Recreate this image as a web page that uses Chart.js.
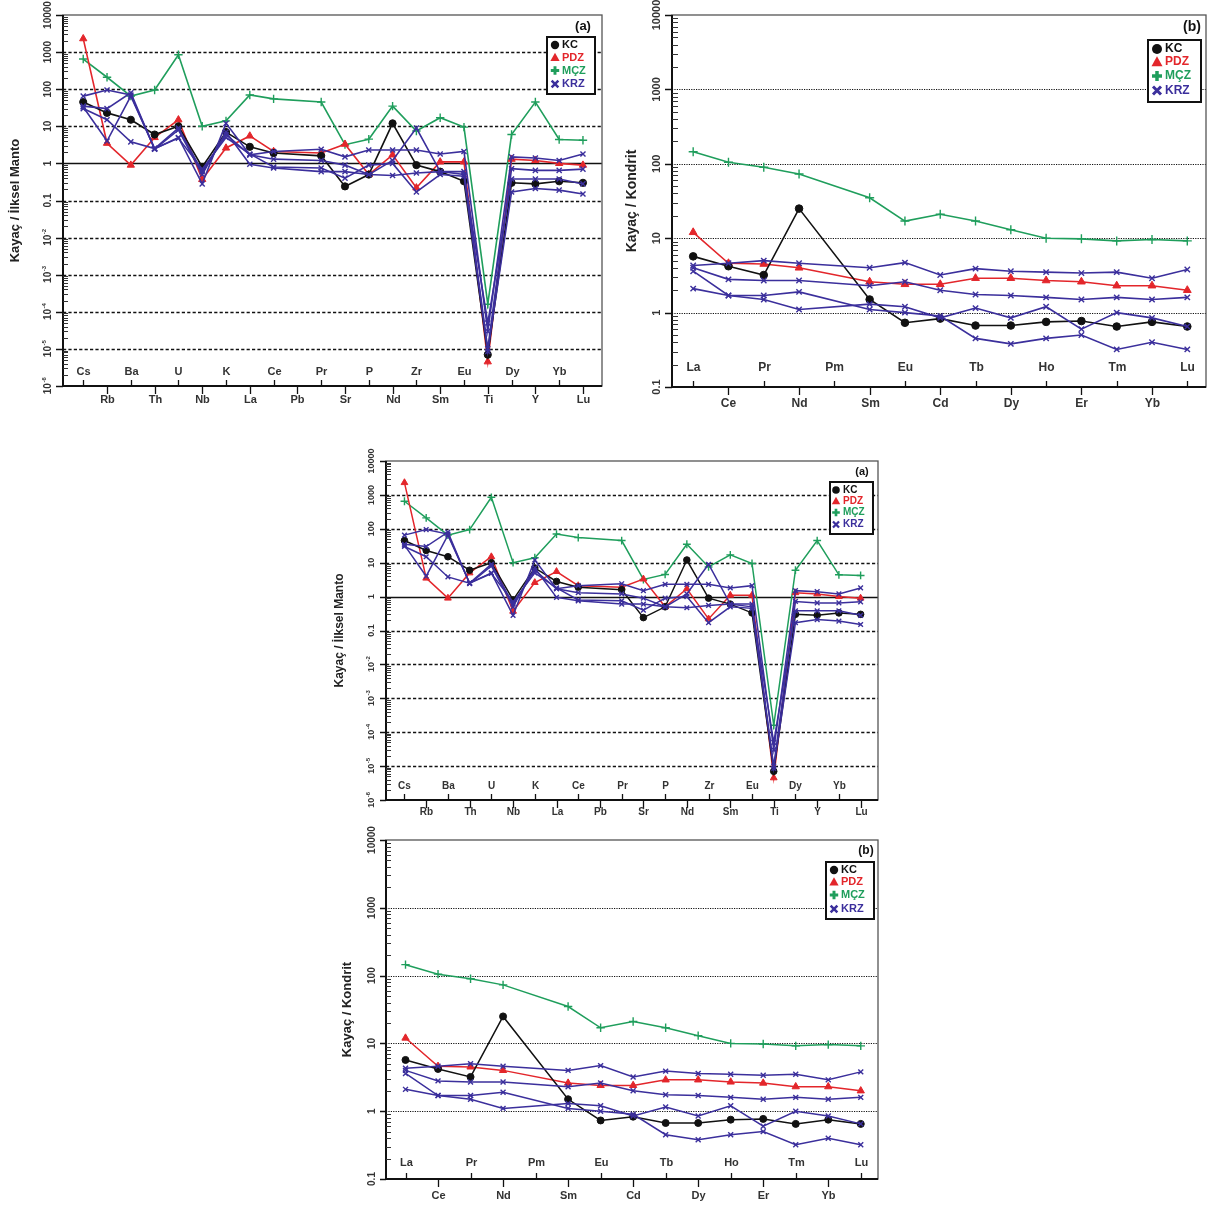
<!DOCTYPE html>
<html>
<head>
<meta charset="utf-8">
<title>Spider and REE diagrams</title>
<script src="https://cdn.jsdelivr.net/npm/chart.js@4.4.1/dist/chart.umd.min.js"></script>
<style>
  body { margin: 0; background: #fff; }
  #wrap { position: relative; width: 1220px; height: 1205px; }
  canvas { position: absolute; }
</style>
</head>
<body>
<div id="wrap">
  <canvas id="spiderTop" width="610" height="420" style="left:0;top:0"></canvas>
  <canvas id="reeTop" width="610" height="420" style="left:610px;top:0"></canvas>
  <canvas id="spiderMid" width="560" height="380" style="left:330px;top:440px"></canvas>
  <canvas id="reeBottom" width="560" height="380" style="left:330px;top:825px"></canvas>
</div>
<script>
// Primitive mantle normalised spider diagram (a)
const spiderElements = ['Cs', 'Rb', 'Ba', 'Th', 'U', 'Nb', 'K', 'La', 'Ce', 'Pb', 'Pr', 'Sr', 'P', 'Nd', 'Zr', 'Sm', 'Eu', 'Ti', 'Dy', 'Y', 'Yb', 'Lu'];
const kcSpider  = [45, 23, 15, 6, 10, 0.8, 7, 2.8, 1.9, null, 1.6, 0.24, 0.5, 12, 0.9, 0.6, 0.33, 7e-6, 0.3, 0.28, 0.33, 0.3];
const pdzSpider = [2300, 3.5, 0.9, 5, 15, 0.37, 2.6, 5.5, 2.1, null, 1.9, 3.3, 0.5, 1.7, 0.22, 1.1, 1.1, 4.5e-6, 1.3, 1.2, 1.0, 0.9];
const mczSpider = [650, 210, 65, 95, 850, 10, 14, 70, 55, null, 45, 3.2, 4.5, 35, 7.5, 17, 9.5, 1.6e-4, 6, 45, 4.4, 4.2];
const krzSpider1 = [65, 95, 70, 2.5, 5, 0.28, 12, 1.7, 2.1, null, 2.4, 1.5, 2.3, 2.3, 2.3, 1.8, 2.1, 3e-5, 1.5, 1.4, 1.2, 1.8];
const krzSpider2 = [35, 30, 80, 2.4, 8, 0.5, 7, 0.95, 0.75, null, 0.6, 0.6, 0.5, 0.47, 0.55, 0.6, 0.6, 1e-5, 0.72, 0.65, 0.65, 0.7];
const krzSpider3 = [33, 4, 65, 2.5, 9, 0.6, 6, 1.7, 1.3, null, 1.2, 0.9, 0.5, 1.2, 9, 0.6, 0.5, 5e-5, 0.38, 0.38, 0.38, 0.28];
const krzSpider4 = [30, 15, 3.8, 2.5, 4.8, 0.7, 5, 1.8, 0.8, null, 0.75, 0.4, 0.9, 1.0, 0.17, 0.5, 0.45, 8.5e-6, 0.17, 0.21, 0.19, 0.15];
const spiderTicks = [1e4, 1e3, 1e2, 10, 1, 1e-1, 1e-2, 1e-3, 1e-4, 1e-5, 1e-6];

// Chondrite normalised REE diagram (b)
const reeElements = ['La', 'Ce', 'Pr', 'Nd', 'Pm', 'Sm', 'Eu', 'Cd', 'Tb', 'Dy', 'Ho', 'Er', 'Tm', 'Yb', 'Lu'];
const kcRee  = [5.7, 4.2, 3.2, 25, null, 1.5, 0.73, 0.83, 0.67, 0.67, 0.75, 0.77, 0.65, 0.75, 0.65];
const pdzRee = [12, 4.6, 4.5, 4.0, null, 2.6, 2.4, 2.4, 2.9, 2.9, 2.7, 2.6, 2.3, 2.3, 2.0];
const mczRee = [145, 105, 90, 73, null, 35, 17, 21, 17, 13, 10, 9.8, 9.2, 9.6, 9.2];
const krzRee1 = [4.3, 4.6, 5.0, 4.6, null, 4.0, 4.7, 3.2, 3.9, 3.6, 3.5, 3.4, 3.5, 2.9, 3.8];
const krzRee2 = [4.0, 2.8, 2.7, 2.7, null, 2.3, 2.6, 2.0, 1.75, 1.7, 1.6, 1.5, 1.6, 1.5, 1.6];
const krzRee3 = [3.6, 1.7, 1.5, 1.1, null, 1.3, 1.2, 0.85, 1.15, 0.85, 1.2, 0.6, 1.0, 0.85, 0.65];
const krzRee4 = [2.1, 1.7, 1.7, 1.9, null, 1.1, 1.0, 0.9, 0.45, 0.38, 0.45, 0.5, 0.32, 0.4, 0.32];
const reeTicks = [1e4, 1e3, 1e2, 10, 1, 0.1];

const groupNames = ['KC', 'PDZ', 'MÇZ', 'KRZ'];
const groupColors = ['#111111', '#e3262b', '#1f9e5c', '#3b2f9c'];
const groupStyles = ['circle', 'triangle', 'cross', 'crossRot'];

const FONT = '"Liberation Sans", Arial, sans-serif';

function toPoints(vals) {
    return vals.map((v, i) => ({ x: i, y: v }));
}

function makeDatasets(kc, pdz, mcz, krzList, s) {
    const sets = [];
    const line = (vals, g, order) => ({
        label: groupNames[g],
        data: toPoints(vals),
        borderColor: groupColors[g],
        backgroundColor: groupColors[g],
        borderWidth: s.lw,
        pointStyle: groupStyles[g],
        pointRadius: s.pr[g],
        pointBorderWidth: g >= 2 ? 1.4 : 1,
        spanGaps: true,
        tension: 0,
        order: order
    });
    sets.push(line(kc, 0, 2));
    sets.push(line(pdz, 1, 3));
    sets.push(line(mcz, 2, 4));
    krzList.forEach(k => sets.push(line(k, 3, 1)));
    return sets;
}

function tickText(v) {
    if (v >= 0.1 && v < 1) return { base: '0.1' };
    if (v >= 1) return { base: String(v) };
    return { base: '10', exp: String(Math.round(Math.log10(v))) };
}

function drawVText(ctx, lab, cx, cy, fs, weight) {
    ctx.save();
    ctx.translate(cx, cy);
    ctx.rotate(-Math.PI / 2);
    ctx.textBaseline = 'middle';
    ctx.textAlign = 'left';
    const baseFont = weight + ' ' + fs + 'px ' + FONT;
    const supFont = weight + ' ' + Math.round(fs * 0.62) + 'px ' + FONT;
    ctx.font = baseFont;
    const wb = ctx.measureText(lab.base).width;
    let ws = 0;
    if (lab.exp) { ctx.font = supFont; ws = ctx.measureText(lab.exp).width; }
    const x0 = -(wb + ws) / 2;
    ctx.font = baseFont;
    ctx.fillText(lab.base, x0, 0);
    if (lab.exp) {
        ctx.font = supFont;
        ctx.fillText(lab.exp, x0 + wb + 0.5, -fs * 0.38);
    }
    ctx.restore();
}

function drawMarker(ctx, style, x, y, r, color) {
    ctx.save();
    ctx.fillStyle = color;
    ctx.strokeStyle = color;
    ctx.beginPath();
    if (style === 'circle') {
        ctx.arc(x, y, r, 0, Math.PI * 2);
        ctx.fill();
    } else if (style === 'triangle') {
        ctx.moveTo(x, y - r * 1.15);
        ctx.lineTo(x + r * 1.1, y + r * 0.85);
        ctx.lineTo(x - r * 1.1, y + r * 0.85);
        ctx.closePath();
        ctx.fill();
    } else if (style === 'cross') {
        ctx.lineWidth = r * 0.7;
        ctx.moveTo(x - r, y); ctx.lineTo(x + r, y);
        ctx.moveTo(x, y - r); ctx.lineTo(x, y + r);
        ctx.stroke();
    } else {
        ctx.lineWidth = r * 0.6;
        const d = r * 0.8;
        ctx.moveTo(x - d, y - d); ctx.lineTo(x + d, y + d);
        ctx.moveTo(x + d, y - d); ctx.lineTo(x - d, y + d);
        ctx.stroke();
    }
    ctx.restore();
}

const panelPlugin = {
    id: 'panel',
    beforeDatasetsDraw(chart) {
        const o = chart.options.plugins.panel;
        const { ctx, chartArea: a } = chart;
        const y = chart.scales.y;
        ctx.save();
        o.ticks.forEach(v => {
            if (v >= o.yMax || v <= o.yMin) return;
            const py = Math.round(y.getPixelForValue(v)) + 0.5;
            ctx.beginPath();
            if (o.kind === 'a' && v === 1) {
                ctx.setLineDash([]);
                ctx.lineWidth = 1.7;
            } else if (o.kind === 'a') {
                ctx.setLineDash([3.2, 2.2]);
                ctx.lineWidth = 1.3;
            } else {
                ctx.setLineDash([1.2, 1.2]);
                ctx.lineWidth = 1;
            }
            ctx.strokeStyle = '#111';
            ctx.moveTo(a.left, py);
            ctx.lineTo(a.right, py);
            ctx.stroke();
        });
        ctx.restore();
    },
    afterDraw(chart) {
        const o = chart.options.plugins.panel;
        const { ctx, chartArea: a } = chart;
        const x = chart.scales.x;
        const y = chart.scales.y;
        ctx.save();

        // frame
        ctx.strokeStyle = '#555';
        ctx.lineWidth = 1.3;
        ctx.strokeRect(a.left, a.top, a.right - a.left, a.bottom - a.top);
        ctx.strokeStyle = '#111';
        ctx.lineWidth = 2;
        ctx.beginPath();
        ctx.moveTo(a.left, a.top);
        ctx.lineTo(a.left, a.bottom);
        ctx.lineTo(a.right, a.bottom);
        ctx.stroke();

        // log ticks on the left axis
        ctx.lineWidth = 1;
        ctx.strokeStyle = '#333';
        const e0 = Math.round(Math.log10(o.yMin));
        const e1 = Math.round(Math.log10(o.yMax));
        for (let e = e0; e < e1; e++) {
            for (let k = 2; k <= 9; k++) {
                const py = Math.round(y.getPixelForValue(k * Math.pow(10, e))) + 0.5;
                ctx.beginPath();
                ctx.moveTo(a.left, py);
                ctx.lineTo(a.left + o.minorLen, py);
                ctx.stroke();
            }
        }
        ctx.lineWidth = 1.5;
        ctx.strokeStyle = '#111';
        o.ticks.forEach(v => {
            const py = Math.round(y.getPixelForValue(v)) + 0.5;
            ctx.beginPath();
            ctx.moveTo(a.left - o.majorLen, py);
            ctx.lineTo(a.left, py);
            ctx.stroke();
            ctx.fillStyle = '#333';
            drawVText(ctx, tickText(v), a.left - o.yLabOff, y.getPixelForValue(v), o.yFs, 'bold');
        });

        // category ticks and staggered labels
        ctx.fillStyle = '#333';
        ctx.textAlign = 'center';
        ctx.textBaseline = 'middle';
        ctx.font = 'bold ' + o.catFs + 'px ' + FONT;
        o.cats.forEach((c, i) => {
            const px = Math.round(x.getPixelForValue(i)) + 0.5;
            ctx.beginPath();
            ctx.lineWidth = 1.3;
            if (i % 2 === 0) {
                ctx.moveTo(px, a.bottom);
                ctx.lineTo(px, a.bottom - 6);
                ctx.stroke();
                ctx.fillText(c, px, a.bottom - o.inOff);
            } else {
                ctx.moveTo(px, a.bottom);
                ctx.lineTo(px, a.bottom + 8);
                ctx.stroke();
                ctx.fillText(c, px, a.bottom + o.outOff);
            }
        });

        // axis title
        ctx.fillStyle = '#222';
        drawVText(ctx, { base: o.title }, o.titleX, (a.top + a.bottom) / 2, o.titleFs, 'bold');

        // panel tag
        ctx.font = 'bold ' + o.tagFs + 'px ' + FONT;
        ctx.fillStyle = '#111';
        ctx.fillText(o.tag, o.tagX, o.tagY);

        // legend
        const L = o.legend;
        ctx.fillStyle = '#fff';
        ctx.fillRect(L.x, L.y, L.w, L.h);
        ctx.strokeStyle = '#111';
        ctx.lineWidth = 2;
        ctx.strokeRect(L.x, L.y, L.w, L.h);
        ctx.textAlign = 'left';
        ctx.font = 'bold ' + L.fs + 'px ' + FONT;
        groupNames.forEach((n, g) => {
            drawMarker(ctx, groupStyles[g], L.mx, L.rows[g], L.mr, groupColors[g]);
            ctx.fillStyle = groupColors[g];
            ctx.fillText(n, L.tx, L.rows[g]);
        });
        ctx.restore();
    }
};

function makeChart(id, cats, datasets, p) {
    new Chart(document.getElementById(id), {
        type: 'line',
        data: { datasets: datasets },
        options: {
            responsive: false,
            animation: false,
            devicePixelRatio: 1,
            layout: { padding: p.pad },
            scales: {
                x: { type: 'linear', min: p.xMin, max: p.xMax, display: false },
                y: { type: 'logarithmic', min: p.yMin, max: p.yMax, display: false }
            },
            plugins: {
                legend: { display: false },
                tooltip: { enabled: false },
                panel: Object.assign({ cats: cats }, p)
            }
        },
        plugins: [panelPlugin]
    });
}

const krzSpiders = [krzSpider1, krzSpider2, krzSpider3, krzSpider4];
const krzRees = [krzRee1, krzRee2, krzRee3, krzRee4];

// top left (a)
makeChart('spiderTop', spiderElements,
    makeDatasets(kcSpider, pdzSpider, mczSpider, krzSpiders, { lw: 1.6, pr: [3.6, 4.2, 4.2, 3.6] }), {
    kind: 'a', ticks: spiderTicks, yMin: 1e-6, yMax: 1e4, xMin: -0.85, xMax: 21.8,
    pad: { left: 63, top: 15, right: 8, bottom: 34 },
    title: 'Kayaç / İlksel Manto', titleX: 15, titleFs: 13,
    yFs: 10, yLabOff: 15, minorLen: 5, majorLen: 7,
    catFs: 11, inOff: 14, outOff: 14,
    tag: '(a)', tagX: 583, tagY: 26, tagFs: 13,
    legend: { x: 547, y: 37, w: 48, h: 57, rows: [45, 57.5, 70.5, 84], mx: 555, tx: 562, fs: 11, mr: 4.2 }
});

// top right (b)
makeChart('reeTop', reeElements,
    makeDatasets(kcRee, pdzRee, mczRee, krzRees, { lw: 1.6, pr: [3.8, 4.5, 4.5, 3.8] }), {
    kind: 'b', ticks: reeTicks, yMin: 0.1, yMax: 1e4, xMin: -0.6, xMax: 14.53,
    pad: { left: 62, top: 15, right: 14, bottom: 33 },
    title: 'Kayaç / Kondrit', titleX: 22, titleFs: 14,
    yFs: 11, yLabOff: 15, minorLen: 6, majorLen: 7,
    catFs: 12, inOff: 19, outOff: 17,
    tag: '(b)', tagX: 582, tagY: 27, tagFs: 14,
    legend: { x: 538, y: 40, w: 53, h: 62, rows: [49, 62, 76, 90.5], mx: 547, tx: 555, fs: 12, mr: 5 }
});

// middle (a)
makeChart('spiderMid', spiderElements,
    makeDatasets(kcSpider, pdzSpider, mczSpider, krzSpiders, { lw: 1.5, pr: [3.3, 3.9, 3.9, 3.3] }), {
    kind: 'a', ticks: spiderTicks, yMin: 1e-6, yMax: 1e4, xMin: -0.85, xMax: 21.8,
    pad: { left: 56, top: 21, right: 12, bottom: 20 },
    title: 'Kayaç / İlksel Manto', titleX: 10, titleFs: 12,
    yFs: 9, yLabOff: 14, minorLen: 5, majorLen: 6,
    catFs: 10, inOff: 14, outOff: 12,
    tag: '(a)', tagX: 532, tagY: 32, tagFs: 11,
    legend: { x: 500, y: 42, w: 43, h: 52, rows: [50, 61, 72.5, 84.5], mx: 506, tx: 513, fs: 10, mr: 3.8 }
});

// bottom (b)
makeChart('reeBottom', reeElements,
    makeDatasets(kcRee, pdzRee, mczRee, krzRees, { lw: 1.5, pr: [3.5, 4.2, 4.2, 3.5] }), {
    kind: 'b', ticks: reeTicks, yMin: 0.1, yMax: 1e4, xMin: -0.6, xMax: 14.53,
    pad: { left: 56, top: 15, right: 12, bottom: 26 },
    title: 'Kayaç / Kondrit', titleX: 17, titleFs: 13,
    yFs: 10, yLabOff: 14, minorLen: 5, majorLen: 6,
    catFs: 11, inOff: 16, outOff: 17,
    tag: '(b)', tagX: 536, tagY: 26, tagFs: 12,
    legend: { x: 496, y: 37, w: 48, h: 57, rows: [45, 57, 70, 84], mx: 504, tx: 511, fs: 11, mr: 4.2 }
});
</script>
</body>
</html>
